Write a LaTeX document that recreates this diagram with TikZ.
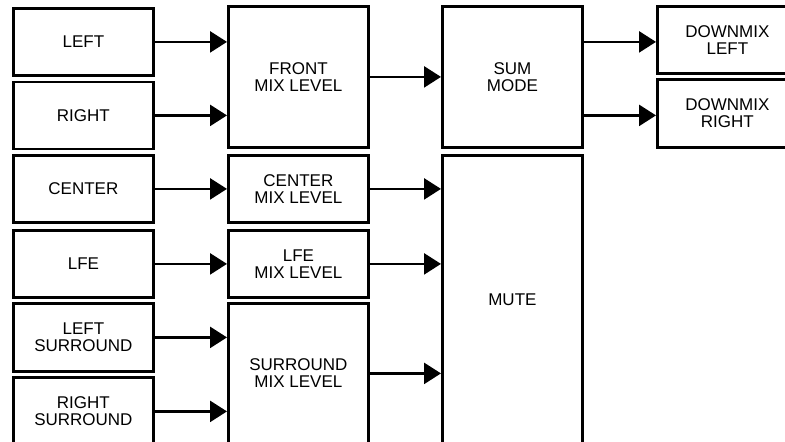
\documentclass[tikz,border=0pt]{standalone}
\usepackage{fontspec}
\setmainfont{Liberation Sans}
\usetikzlibrary{arrows.meta}

\begin{document}
\begin{tikzpicture}[x=1pt, y=-1pt, line width=2.6pt,
  blk/.style={draw, line width=2.8pt, inner sep=0pt, minimum width=140pt,
    align=center, anchor=north west, font=\fontsize{17}{16.7}\selectfont},
  arr/.style={-{Triangle[length=17pt,width=21pt]}, line width=2.6pt}]

  %% canvas: the blocks at the right and bottom run past the edge
  \clip (0,0) rectangle (785,442);
  \fill[white] (0,0) rectangle (785,442);

  %% inputs
  \node[blk, minimum height=67pt] (left)   at (12,7)     {LEFT};
  \node[blk, minimum height=67pt] (right)  at (12,80.5)  {RIGHT};
  \node[blk, minimum height=67pt] (center) at (12,154)   {CENTER};
  \node[blk, minimum height=67pt] (lfe)    at (12,229)   {LFE};
  \node[blk, minimum height=68pt] (lsur)   at (12,302)   {LEFT\\SURROUND};
  \node[blk, minimum height=68pt] (rsur)   at (12,376)   {RIGHT\\SURROUND};

  %% mix levels
  \node[blk, minimum height=141pt] (front) at (227,5)    {FRONT\\MIX LEVEL};
  \node[blk, minimum height=67pt]  (cmix)  at (227,154)  {CENTER\\MIX LEVEL};
  \node[blk, minimum height=67pt]  (lmix)  at (227,229)  {LFE\\MIX LEVEL};
  \node[blk, minimum height=140pt] (smix)  at (227,302)  {SURROUND\\MIX LEVEL};

  %% sum / mute
  \node[blk, minimum height=141pt] (sum)   at (441,5)    {SUM\\MODE};
  \node[blk, minimum height=288pt] (mute)  at (441,154)  {MUTE};

  %% outputs
  \node[blk, minimum height=67pt] (dmxl)   at (656,5)    {DOWNMIX\\LEFT};
  \node[blk, minimum height=68pt] (dmxr)   at (656,78)   {DOWNMIX\\RIGHT};

  %% connections
  \draw[arr] (left.east)   -- (left.east -| front.west);
  \draw[arr] (right.east)  -- (right.east -| front.west);
  \draw[arr] (center.east) -- (cmix.west);
  \draw[arr] (lfe.east)    -- (lmix.west);
  \draw[arr] (lsur.east)   -- (lsur.east -| smix.west);
  \draw[arr] (rsur.east)   -- (rsur.east -| smix.west);

  \draw[arr] (front.east)  -- (front.east -| sum.west);
  \draw[arr] (sum.east |- left.east)  -- (dmxl.west |- left.east);
  \draw[arr] (sum.east |- right.east) -- (dmxr.west |- right.east);

  \draw[arr] (cmix.east)   -- (cmix.east -| mute.west);
  \draw[arr] (lmix.east)   -- (lmix.east -| mute.west);
  \draw[arr] (smix.east)   -- (smix.east -| mute.west);
\end{tikzpicture}
\end{document}
